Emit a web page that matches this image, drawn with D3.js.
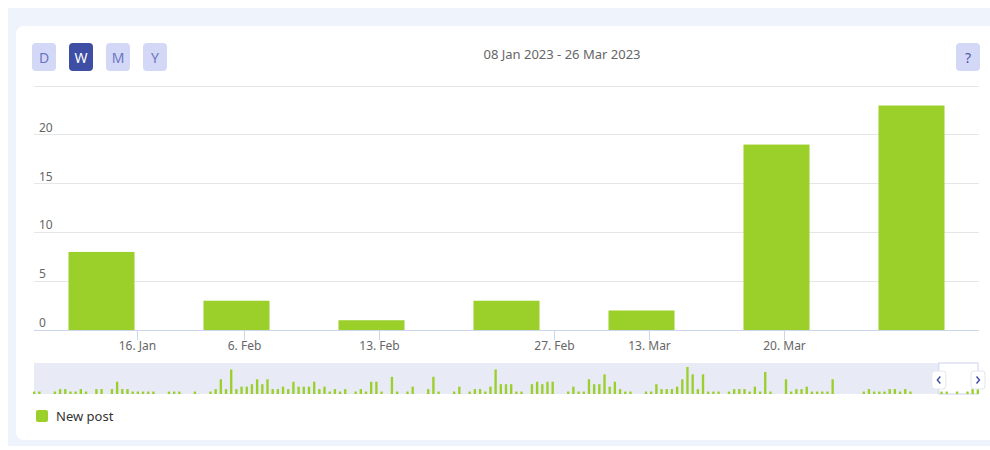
<!DOCTYPE html>
<html><head><meta charset="utf-8">
<script src="https://cdn.jsdelivr.net/npm/d3@7/dist/d3.min.js"></script>
<style>
body{margin:0;background:#fff;}
svg{display:block;font-family:'Noto Sans',sans-serif;}
</style>
</head><body>
<svg id="c" width="990" height="450"></svg>
<script>
// ---------- data ----------
const title = "08 Jan 2023 - 26 Mar 2023";
const periodButtons = ["D", "W", "M", "Y"];
const activePeriod = "W";
const seriesName = "New post";
const weekDates = ["2023-01-08T15:00:00Z", "2023-02-05T15:00:00Z", "2023-02-12T15:00:00Z",
  "2023-02-19T15:00:00Z", "2023-03-12T15:00:00Z", "2023-03-19T15:00:00Z", "2023-03-26T15:00:00Z"];
const newPosts = [8, 3, 1, 3, 2, 19, 23];
const yTicks = [0, 5, 10, 15, 20, 25];
const yTickLabels = ["0", "5", "10", "15", "20", ""];
const xTickDates = ["2023-01-16T00:00:00Z", "2023-02-06T00:00:00Z", "2023-02-13T00:00:00Z",
  "2023-02-27T00:00:00Z", "2023-03-13T00:00:00Z", "2023-03-20T00:00:00Z"];
const xTickLabels = ["16. Jan", "6. Feb", "13. Feb", "27. Feb", "13. Mar", "20. Mar"];
const navigatorDaily = [
  1,1,0,0,1,2,2,1,1,2,1,0,2,2,0,2,5,2,2,1,1,1,1,1,0,0,1,1,1,0,0,1,0,0,1,2,6,2,10,2,3,3,4,6,
  4,6,2,2,3,2,5,3,3,3,5,2,3,1,2,1,2,0,1,2,1,5,5,1,0,7,1,0,1,3,0,0,2,7,1,0,0,1,3,0,1,2,2,1,3,10,4,
  4,4,1,1,0,4,5,4,5,5,0,0,1,3,1,1,6,4,4,8,3,5,2,1,1,0,0,1,1,4,2,2,2,3,6,11,8,2,8,1,1,1,0,1,2,2,2,
  1,3,1,9,1,0,0,6,1,2,2,3,1,1,1,1,6,0,0,0,0,0,1,2,1,1,1,2,2,1,2,1,0,0,0,0,0,1,1,0,1,0,1,2,3];
const navigatorSelection = [navigatorDaily.length - 8, navigatorDaily.length];

// ---------- style ----------
const green = "#9bcf2a";
const svg = d3.select("#c");

// page + card
svg.append("rect").attr("x", 8).attr("y", 8).attr("width", 990).attr("height", 438).attr("fill", "#eff3fc");
svg.append("rect").attr("x", 16).attr("y", 26).attr("width", 990).attr("height", 414).attr("rx", 8).attr("fill", "#fff");

// buttons
const btnX = d3.scalePoint().domain(periodButtons).range([32, 143]);
const btn = svg.selectAll("g.btn").data(periodButtons).join("g").attr("class", "btn")
  .attr("transform", d => `translate(${btnX(d)},43)`);
btn.append("rect").attr("width", 24).attr("height", 28).attr("rx", 4)
  .attr("fill", d => d === activePeriod ? "#3d4ea4" : "#d4d8f7");
btn.append("text").attr("x", 12).attr("y", 19.5).attr("text-anchor", "middle")
  .attr("font-size", 14).attr("fill", d => d === activePeriod ? "#fff" : "#6a76c3").text(d => d);

// help button
const help = svg.append("g").attr("transform", "translate(956,43)");
help.append("rect").attr("width", 24).attr("height", 28).attr("rx", 4).attr("fill", "#d4d8f7");
help.append("text").attr("x", 12).attr("y", 19.5).attr("text-anchor", "middle").attr("font-size", 14).attr("fill", "#4a59a8").text("?");

// title
svg.append("text").attr("x", 562).attr("y", 59).attr("text-anchor", "middle").attr("font-size", 13)
  .attr("fill", "#666").text(title);

// ---------- main chart ----------
const plotL = 34, plotR = 979;
const band = d3.scaleBand().domain(d3.range(newPosts.length)).range([plotL, plotR])
  .paddingInner(0.511).paddingOuter(0.2555);
const parsedWeeks = weekDates.map(d => new Date(d));
const xTime = d3.scaleUtc().domain(parsedWeeks).range(parsedWeeks.map((d, i) => band(i) + band.bandwidth() / 2));
const y = d3.scaleLinear().domain([0, 25]).range([330, 86]);

// grid
svg.append("g").selectAll("line").data(yTicks.filter(v => v > 0)).join("line")
  .attr("x1", plotL).attr("x2", plotR).attr("y1", d => y(d)).attr("y2", d => y(d))
  .attr("stroke", "#e6e6e6").attr("stroke-width", 1).attr("shape-rendering", "crispEdges");
svg.append("g").selectAll("text").data(yTicks).join("text")
  .attr("x", 39).attr("y", d => y(d) - 3).attr("font-size", 12).attr("fill", "#666")
  .text((d, i) => yTickLabels[i]);

// bars
svg.append("g").selectAll("rect").data(newPosts).join("rect")
  .attr("x", (d, i) => band(i)).attr("width", band.bandwidth())
  .attr("y", d => y(d)).attr("height", d => y(0) - y(d)).attr("fill", green);

// x axis
svg.append("line").attr("x1", plotL).attr("x2", plotR).attr("y1", y(0) + 0.5).attr("y2", y(0) + 0.5)
  .attr("stroke", "#ccd6eb");
const xt = svg.append("g").selectAll("g").data(xTickDates).join("g")
  .attr("transform", d => `translate(${Math.round(xTime(new Date(d))) + 0.5},${y(0)})`);
xt.append("line").attr("y1", 0).attr("y2", 10).attr("stroke", "#ccd6eb");
xt.append("text").attr("y", 20).attr("text-anchor", "middle").attr("font-size", 12).attr("fill", "#666")
  .text((d, i) => xTickLabels[i]);

// ---------- navigator ----------
const navTop = 363, navBottom = 394;
svg.append("rect").attr("x", 34).attr("y", navTop).attr("width", 944).attr("height", navBottom - navTop).attr("fill", "#e8ebf5");
const nx = d3.scaleBand().domain(d3.range(navigatorDaily.length)).range([33, 979]).paddingInner(0.55);
const ny = d3.scaleLinear().domain([0, d3.max(navigatorDaily)]).range([navBottom, 367]);
const selX0 = nx(navigatorSelection[0]) - nx.step() * 0.3;
const selX1 = Math.min(978, nx(navigatorSelection[1] - 1) + nx.step());
svg.append("rect").attr("x", selX0).attr("y", navTop).attr("width", selX1 - selX0).attr("height", navBottom - navTop)
  .attr("fill", "#fff").attr("stroke", "#cdd2f3");
svg.append("g").selectAll("rect").data(navigatorDaily).join("rect")
  .attr("x", (d, i) => nx(i)).attr("width", nx.bandwidth())
  .attr("y", d => ny(d)).attr("height", d => ny(0) - ny(d)).attr("fill", green);

// handles
[selX0, selX1].forEach((hx, k) => {
  const g = svg.append("g").attr("transform", `translate(${hx},380)`);
  g.append("rect").attr("x", -7).attr("y", -9).attr("width", 14).attr("height", 18).attr("rx", 3)
    .attr("fill", "#fff").attr("stroke", "#e4e6ee");
  const s = k === 0 ? 1 : -1;
  g.append("path").attr("d", `M${1.5 * s},-3.5 L${-1.5 * s},0 L${1.5 * s},3.5`)
    .attr("fill", "none").attr("stroke", "#3d4ea4").attr("stroke-width", 1.4);
});

// legend
svg.append("rect").attr("x", 36).attr("y", 410).attr("width", 12).attr("height", 12).attr("rx", 2).attr("fill", green);
svg.append("text").attr("x", 56).attr("y", 421).attr("font-size", 13).attr("fill", "#333").text(seriesName);
</script>
</body></html>
